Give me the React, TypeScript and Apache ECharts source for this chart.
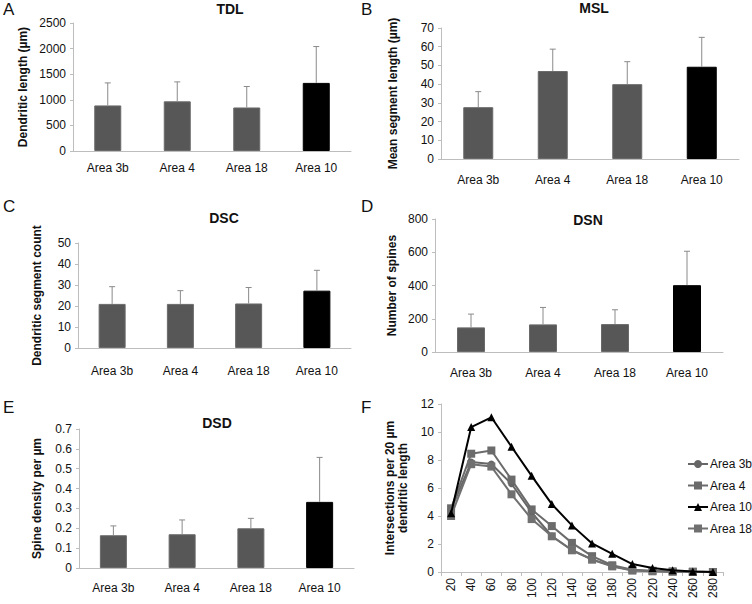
import React, { useEffect, useRef } from "react";
import * as echarts from "echarts";

const areas = ["Area 3b", "Area 4", "Area 18", "Area 10"];

const tdlMean = [890, 970, 850, 1330];
const tdlErr = [440, 380, 410, 710];
const mslMean = [27.7, 47, 40, 49.3];
const mslErr = [8.3, 11.7, 12, 15.7];
const dscMean = [21, 21, 21.2, 27.3];
const dscErr = [8.2, 6.3, 7.6, 9.7];
const dsnMean = [148, 166, 168, 402];
const dsnErr = [80, 102, 86, 204];
const dsdMean = [0.165, 0.17, 0.2, 0.333];
const dsdErr = [0.047, 0.072, 0.05, 0.224];

const shollDist = ["20", "40", "60", "80", "100", "120", "140", "160", "180", "200", "220", "240", "260", "280"];
const sholl3b = [4.45, 7.85, 7.72, 6.3, 4.25, 2.57, 1.57, 0.9, 0.42, 0.12, 0.06, 0.03, 0.01, 0];
const sholl4 = [4.55, 8.45, 8.68, 6.6, 4.47, 3.28, 2.08, 1.13, 0.48, 0.16, 0.09, 0.04, 0.02, 0];
const sholl10 = [4.2, 10.35, 11.05, 8.95, 6.87, 4.85, 3.33, 2.04, 1.3, 0.57, 0.28, 0.12, 0.03, 0];
const sholl18 = [4.0, 7.7, 7.53, 5.55, 3.78, 2.55, 1.55, 0.88, 0.4, 0.1, 0.05, 0.02, 0.01, 0];

const FONT = "Liberation Sans, Arial, sans-serif";
const BAR_GRAY = "#575757";
const AXIS_GRAY = "#bdbdbd";
const ERR_GRAY = "#8a8a8a";

type Panel = {
  letter: string;
  title: string;
  yName: string;
  mean: number[];
  err: number[];
  max: number;
  interval: number;
  grid: { left: number; top: number; width: number; height: number };
  barWidth: number;
  nameGap: number;
  labelMargin: number;
};

const panels: Panel[] = [
  { letter: "A", title: "TDL", yName: "Dendritic length (µm)", mean: tdlMean, err: tdlErr, max: 2500, interval: 500,
    grid: { left: 73, top: 23, width: 278, height: 128 }, barWidth: 27, nameGap: 44, labelMargin: 11 },
  { letter: "B", title: "MSL", yName: "Mean segment length (µm)", mean: mslMean, err: mslErr, max: 70, interval: 10,
    grid: { left: 441, top: 28, width: 298, height: 131 }, barWidth: 30, nameGap: 42, labelMargin: 15 },
  { letter: "C", title: "DSC", yName: "Dendritic segment count", mean: dscMean, err: dscErr, max: 50, interval: 10,
    grid: { left: 78, top: 243, width: 273, height: 105 }, barWidth: 27, nameGap: 35, labelMargin: 17 },
  { letter: "D", title: "DSN", yName: "Number of spines", mean: dsnMean, err: dsnErr, max: 800, interval: 200,
    grid: { left: 435, top: 219, width: 288, height: 133 }, barWidth: 28, nameGap: 37, labelMargin: 15 },
  { letter: "E", title: "DSD", yName: "Spine density per µm", mean: dsdMean, err: dsdErr, max: 0.7, interval: 0.1,
    grid: { left: 79, top: 429, width: 275, height: 139 }, barWidth: 27, nameGap: 36, labelMargin: 14 },
];

const titlePos = [
  { x: 230, y: 9 },
  { x: 594, y: 8 },
  { x: 224, y: 218 },
  { x: 588, y: 220 },
  { x: 217, y: 423 },
];

const letterPos = [
  { l: "A", x: 3, y: 10 },
  { l: "B", x: 361, y: 10 },
  { l: "C", x: 3, y: 207 },
  { l: "D", x: 361, y: 207 },
  { l: "E", x: 3, y: 408 },
  { l: "F", x: 361, y: 408 },
];

const fmt = (v: number) => String(Math.round(v * 1000) / 1000);

export default function App() {
  const ref = useRef<HTMLDivElement>(null);
  useEffect(() => {
    if (!ref.current) return;
    const chart = echarts.init(ref.current, undefined, { renderer: "svg" });

    const grids: any[] = [];
    const xAxes: any[] = [];
    const yAxes: any[] = [];
    const series: any[] = [];

    panels.forEach((p, i) => {
      grids.push({ ...p.grid, containLabel: false });
      xAxes.push({
        type: "category",
        gridIndex: i,
        data: areas,
        axisLine: { lineStyle: { color: AXIS_GRAY, width: 1 } },
        axisTick: { show: false },
        axisLabel: { color: "#111", fontSize: 12, fontFamily: FONT, margin: p.labelMargin },
      });
      yAxes.push({
        type: "value",
        gridIndex: i,
        min: 0,
        max: p.max,
        interval: p.interval,
        name: p.yName,
        nameLocation: "middle",
        nameGap: p.nameGap,
        nameTextStyle: { color: "#111", fontSize: 12, fontWeight: "bold", fontFamily: FONT },
        splitLine: { show: false },
        axisLine: { show: true, lineStyle: { color: AXIS_GRAY, width: 1 } },
        axisTick: { show: true, length: 3, lineStyle: { color: AXIS_GRAY } },
        axisLabel: { color: "#111", fontSize: 12, fontFamily: FONT, margin: 7, formatter: fmt },
      });
      series.push({
        type: "bar",
        xAxisIndex: i,
        yAxisIndex: i,
        barWidth: p.barWidth,
        data: p.mean.map((v, k) => ({
          value: v,
          itemStyle: { color: k === 3 ? "#000" : BAR_GRAY, borderColor: k === 3 ? "#000" : "#6a6a6a", borderWidth: 1 },
        })),
        z: 2,
      });
      series.push({
        type: "custom",
        xAxisIndex: i,
        yAxisIndex: i,
        data: p.mean.map((v, k) => [k, v, v + p.err[k]]),
        z: 3,
        renderItem: (params: any, api: any) => {
          const lo = api.coord([api.value(0), api.value(1)]);
          const hi = api.coord([api.value(0), api.value(2)]);
          const style = { stroke: ERR_GRAY, lineWidth: 1 };
          return {
            type: "group",
            children: [
              { type: "line", shape: { x1: lo[0], y1: lo[1], x2: hi[0], y2: hi[1] }, style },
              { type: "line", shape: { x1: hi[0] - 3, y1: hi[1], x2: hi[0] + 3, y2: hi[1] }, style },
            ],
          };
        },
      });
    });

    // Panel F
    const fi = panels.length;
    grids.push({ left: 441, top: 404, width: 282, height: 168 });
    xAxes.push({
      type: "category",
      gridIndex: fi,
      data: shollDist,
      boundaryGap: true,
      axisLine: { lineStyle: { color: AXIS_GRAY, width: 1 } },
      axisTick: { show: true, length: 4, interval: 0, lineStyle: { color: AXIS_GRAY } },
      axisLabel: { color: "#111", fontSize: 12, fontFamily: FONT, rotate: 90, interval: 0, margin: 6 },
    });
    yAxes.push({
      type: "value",
      gridIndex: fi,
      min: 0,
      max: 12,
      interval: 2,
      name: "Intersections per 20 µm\ndendritic length",
      nameLocation: "middle",
      nameGap: 32,
      nameTextStyle: { color: "#111", fontSize: 12, fontWeight: "bold", fontFamily: FONT, lineHeight: 13 },
      splitLine: { show: false },
      axisLine: { show: true, lineStyle: { color: AXIS_GRAY, width: 1 } },
      axisTick: { show: true, length: 3, lineStyle: { color: AXIS_GRAY } },
      axisLabel: { color: "#111", fontSize: 12, fontFamily: FONT, margin: 7, formatter: fmt },
    });
    const lineDefs = [
      { name: "Area 3b", data: sholl3b, color: "#666666", symbol: "circle", size: 7 },
      { name: "Area 4", data: sholl4, color: "#6b6b6b", symbol: "rect", size: 8 },
      { name: "Area 10", data: sholl10, color: "#000000", symbol: "triangle", size: 8 },
      { name: "Area 18", data: sholl18, color: "#707070", symbol: "rect", size: 8 },
    ];
    lineDefs.forEach((d) => {
      series.push({
        type: "line",
        name: d.name,
        xAxisIndex: fi,
        yAxisIndex: fi,
        data: d.data,
        symbol: d.symbol,
        symbolSize: d.size,
        showSymbol: true,
        lineStyle: { color: d.color, width: 2 },
        itemStyle: { color: d.color },
        z: d.name === "Area 10" ? 5 : 4,
      });
    });

    const titles: any[] = [];
    panels.forEach((p, i) => {
      titles.push({
        text: p.title,
        left: titlePos[i].x,
        top: titlePos[i].y,
        textAlign: "center",
        textVerticalAlign: "middle",
        padding: 0,
        textStyle: { fontSize: 14, fontWeight: "bold", color: "#111", fontFamily: FONT },
      });
    });

    const graphics: any[] = letterPos.map((lp) => ({
      type: "text",
      left: lp.x,
      top: lp.y - 9,
      style: { text: lp.l, fontSize: 17, fontFamily: FONT, fill: "#111" },
    }));

    chart.setOption({
      animation: false,
      backgroundColor: "#ffffff",
      title: titles,
      grid: grids,
      xAxis: xAxes,
      yAxis: yAxes,
      series,
      graphic: graphics,
      legend: {
        data: ["Area 3b", "Area 4", "Area 10", "Area 18"],
        orient: "vertical",
        left: 687,
        top: 458,
        itemWidth: 20,
        itemHeight: 10,
        itemGap: 9.5,
        padding: 0,
        textStyle: { fontSize: 12, color: "#111", fontFamily: FONT, padding: [0, 0, 0, -3] },
      },
    });
    return () => chart.dispose();
  }, []);
  return <div ref={ref} style={{ position: "absolute", left: 0, top: 0, width: 752, height: 604 }} />;
}
